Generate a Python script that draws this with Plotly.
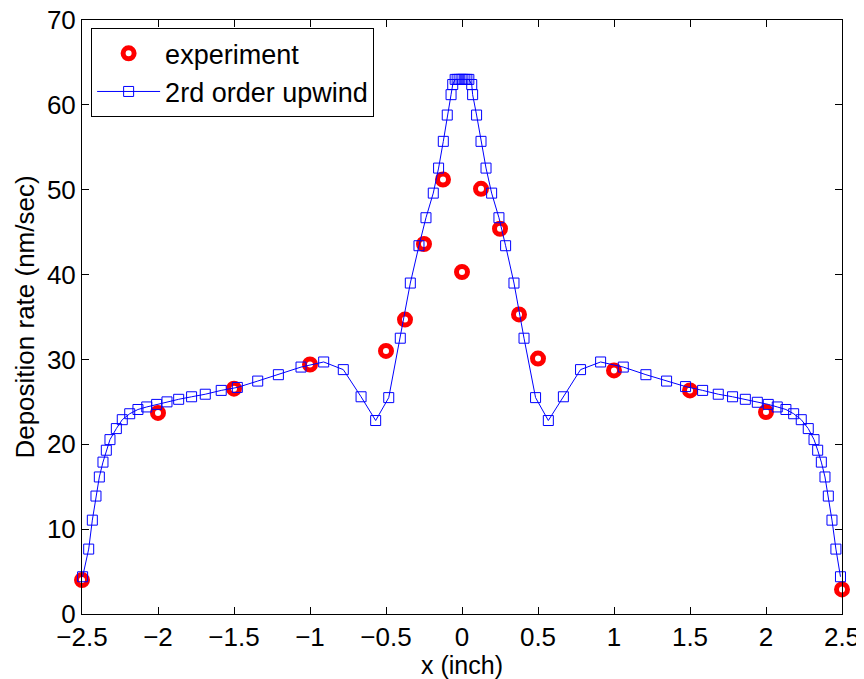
import plotly.graph_objects as go

# Experimental data
exp_x = [-2.5, -2.0, -1.5, -1.0, -0.5, -0.375, -0.25, -0.125, 0.0,
         0.125, 0.25, 0.375, 0.5, 1.0, 1.5, 2.0, 2.5]
exp_y = [4.0, 23.7, 26.55, 29.4, 31.0, 34.7, 43.6, 51.2, 40.3,
         50.1, 45.4, 35.3, 30.1, 28.7, 26.35, 23.8, 2.9]

# 2nd order upwind simulation
sim_x = [-2.496, -2.456, -2.432, -2.408, -2.386, -2.362, -2.340, -2.316, -2.274, -2.235,
         -2.186, -2.132, -2.074, -2.009, -1.941, -1.864, -1.779, -1.689, -1.584, -1.478,
         -1.344, -1.208, -1.059, -0.910, -0.781, -0.664, -0.568, -0.482, -0.406, -0.340,
         -0.283, -0.237, -0.189, -0.154, -0.123, -0.097, -0.072, -0.061, -0.045, -0.032,
         -0.019, -0.006, 0.006, 0.019, 0.032, 0.045, 0.064, 0.070, 0.096, 0.125,
         0.158, 0.195, 0.243, 0.287, 0.342, 0.408, 0.484, 0.568, 0.667, 0.780,
         0.912, 1.061, 1.210, 1.346, 1.471, 1.583, 1.686, 1.780, 1.864, 1.943,
         2.015, 2.074, 2.131, 2.182, 2.232, 2.278, 2.316, 2.340, 2.364, 2.388,
         2.410, 2.434, 2.460, 2.490]
sim_y = [4.39, 7.65, 11.06, 13.9, 16.15, 17.9, 19.3, 20.55, 21.85, 22.9,
         23.6, 24.1, 24.4, 24.7, 25.0, 25.3, 25.6, 25.9, 26.35, 26.7,
         27.45, 28.2, 29.1, 29.7, 28.8, 25.6, 22.8, 25.5, 32.5, 39.0,
         43.4, 46.7, 49.6, 52.55, 55.7, 58.8, 61.2, 62.4, 63.0, 63.0,
         63.0, 63.0, 63.0, 63.0, 63.0, 63.0, 62.4, 61.2, 58.8, 55.7,
         52.55, 49.6, 46.7, 43.4, 39.0, 32.5, 25.5, 22.8, 25.6, 28.8,
         29.7, 29.1, 28.2, 27.45, 26.8, 26.35, 25.9, 25.6, 25.3, 24.95,
         24.7, 24.4, 24.1, 23.6, 22.9, 21.85, 20.55, 19.3, 17.9, 16.15,
         13.9, 11.06, 7.65, 4.39]

x_ticks = [-2.5, -2, -1.5, -1, -0.5, 0, 0.5, 1, 1.5, 2, 2.5]
y_ticks = [0, 10, 20, 30, 40, 50, 60, 70]

FONT = "Liberation Sans, Arial, Helvetica, sans-serif"

fig = go.Figure()
fig.add_trace(go.Scatter(
    x=exp_x, y=exp_y, mode="markers", name="experiment",
    marker=dict(symbol="circle", size=11, color="white",
                line=dict(color="#ff0000", width=5)),
    cliponaxis=False,
))
fig.add_trace(go.Scatter(
    x=sim_x, y=sim_y, mode="lines+markers", name="2rd order upwind",
    line=dict(color="#0000ff", width=1),
    marker=dict(symbol="square-open", size=10, color="#0000ff",
                line=dict(width=1)),
    cliponaxis=False,
))

axis_common = dict(
    showline=True, linecolor="black", linewidth=1, mirror="ticks",
    ticks="inside", ticklen=7, tickcolor="black", tickwidth=1,
    showgrid=False, zeroline=False, automargin=False,
    ticklabeloverflow="allow",
    tickfont=dict(family=FONT, size=26, color="black"),
)

# page body has an 8px margin, so the figure is sized/offset to compensate
fig.update_layout(
    width=856, height=671,
    margin=dict(l=74, r=22, t=12, b=65, autoexpand=False),
    paper_bgcolor="white", plot_bgcolor="white",
    font=dict(family=FONT, size=26, color="black"),
    xaxis=dict(range=[-2.5, 2.5], tickvals=x_ticks,
               title=dict(text="x (inch)", font=dict(family=FONT, size=25), standoff=0),
               **axis_common),
    yaxis=dict(range=[0, 70], tickvals=y_ticks,
               title=dict(text="Deposition rate (nm/sec)", font=dict(family=FONT, size=26), standoff=4),
               **axis_common),
    legend=dict(x=0.012, y=0.986, xanchor="left", yanchor="top",
                bordercolor="black", borderwidth=1, bgcolor="white",
                font=dict(family=FONT, size=27, color="black"),
                itemwidth=63, tracegroupgap=0),
    showlegend=True,
)

fig.write_html("out.html")
